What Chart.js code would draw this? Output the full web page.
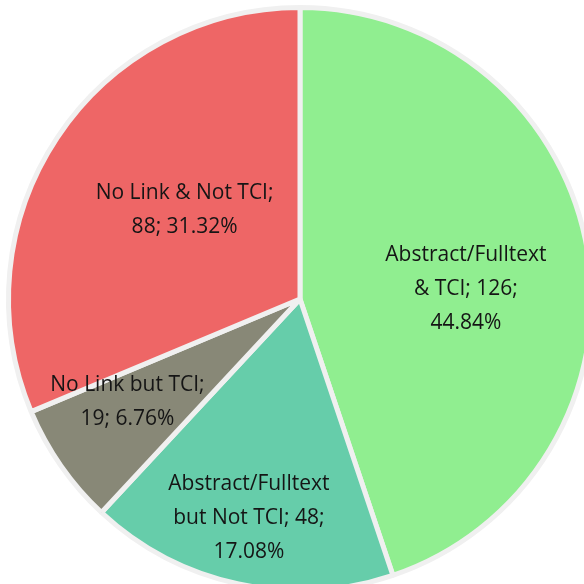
<!DOCTYPE html>
<html>
<head>
<meta charset="utf-8">
<script src="https://cdn.jsdelivr.net/npm/chart.js@4/dist/chart.umd.min.js"></script>
<style>
  html, body { margin: 0; padding: 0; background: #fff; overflow: hidden; }
  #wrap { position: absolute; left: 0; top: -1px; width: 600px; height: 600px; }
</style>
</head>
<body>
<div id="wrap"><canvas id="pieChart"></canvas></div>
<script>
(function () {

    const categories = ['Abstract/Fulltext & TCI', 'Abstract/Fulltext but Not TCI', 'No Link but TCI', 'No Link & Not TCI'];
    const counts = [126, 48, 19, 88];
    const percents = ['44.84%', '17.08%', '6.76%', '31.32%'];
    const labelLines = [
        ['Abstract/Fulltext', '& TCI; 126;', '44.84%'],
        ['Abstract/Fulltext', 'but Not TCI; 48;', '17.08%'],
        ['No Link but TCI;', '19; 6.76%'],
        ['No Link & Not TCI;', '88; 31.32%']
    ];
    const colors = ['#90ee90', '#66cdaa', '#888877', '#ee6666'];

    // where each label sits, as a share of the radius, plus a small angle nudge (deg)
    const labelSpots = [
        { r: 0.57, turn: 6 },
        { r: 0.77, turn: 1 },
        { r: 0.69, turn: 4 },
        { r: 0.50, turn: 4 }
    ];

    const sliceLabels = {
        id: 'sliceLabels',
        afterDatasetsDraw(chart) {
            const ctx = chart.ctx;
            const meta = chart.getDatasetMeta(0);
            ctx.save();
            ctx.font = '21px "Open Sans", sans-serif';
            ctx.fillStyle = '#151515';
            ctx.textAlign = 'center';
            ctx.textBaseline = 'middle';
            meta.data.forEach((arc, i) => {
                const p = arc.getProps(['x', 'y', 'startAngle', 'endAngle', 'outerRadius'], true);
                const mid = (p.startAngle + p.endAngle) / 2 + labelSpots[i].turn * Math.PI / 180;
                const r = p.outerRadius * labelSpots[i].r;
                const cx = p.x + Math.cos(mid) * r;
                const cy = p.y + Math.sin(mid) * r;
                const lines = labelLines[i];
                const lh = 34;
                lines.forEach((t, k) => {
                    ctx.fillText(t, cx, cy + (k - (lines.length - 1) / 2) * lh);
                });
            });
            ctx.restore();
        }
    };

    new Chart(document.getElementById('pieChart'), {
        type: 'pie',
        data: {
            labels: categories,
            datasets: [{
                data: counts,
                backgroundColor: colors,
                borderColor: '#f0f0f0',
                borderWidth: 5
            }]
        },
        options: {
            responsive: true,
            maintainAspectRatio: false,
            animation: false,
            layout: { padding: 6 },
            plugins: {
                legend: { display: false },
                tooltip: { enabled: false }
            }
        },
        plugins: [sliceLabels]
    });

})();
</script>
</body>
</html>
